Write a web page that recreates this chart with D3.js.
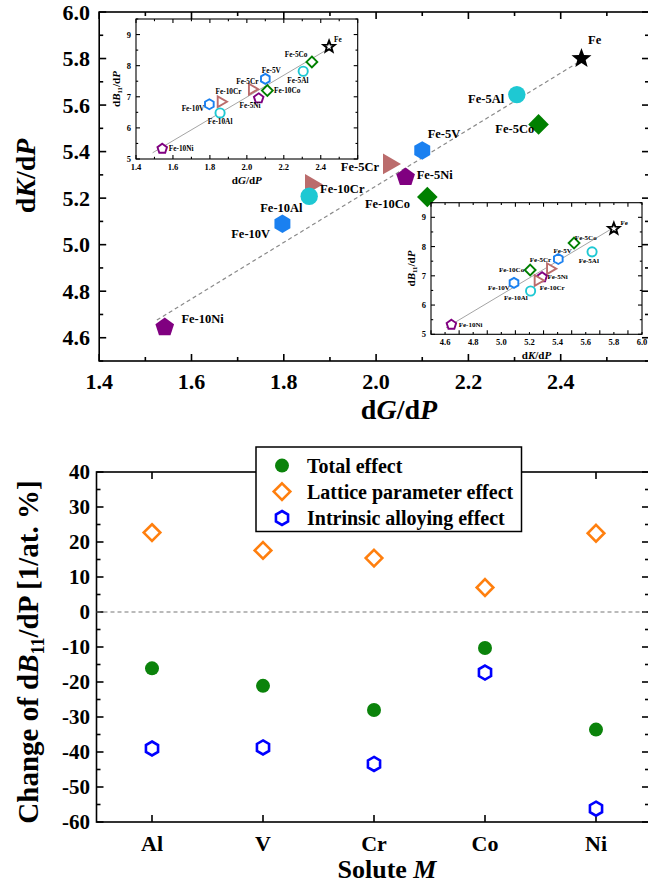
<!DOCTYPE html>
<html><head><meta charset="utf-8">
<script src="https://cdn.jsdelivr.net/npm/d3@7"></script>
<style>
body{margin:0;background:#fff;}
svg{display:block;font-family:"Liberation Serif","Times New Roman",serif;font-weight:bold;}
</style></head><body>
<svg id="c" width="648" height="886"></svg>
<script>
// ---------------- DATA ----------------
const alloys  = ["Fe","Fe-5Al","Fe-5Co","Fe-5V","Fe-5Cr","Fe-5Ni","Fe-10Co","Fe-10Cr","Fe-10Al","Fe-10V","Fe-10Ni"];
const solute  = ["Fe","Al","Co","V","Cr","Ni","Co","Cr","Al","V","Ni"];
const dGdP    = [2.445, 2.305, 2.352, 2.100, 2.028, 2.064, 2.111, 1.859, 1.855, 1.797, 1.542];
const dKdP    = [5.800, 5.645, 5.517, 5.405, 5.347, 5.290, 5.205, 5.259, 5.208, 5.090, 4.645];
const dB11dP  = [8.61, 7.82, 8.12, 7.575, 7.245, 6.95, 7.20, 6.84, 6.48, 6.76, 5.33];
const fitGK_x = [1.525, 2.435], fitGK_y = [4.676, 5.780];
const fitGB_x = [1.490, 2.447], fitGB_y = [5.20, 8.56];
const fitKB_x = [4.607, 5.778], fitKB_y = [5.226, 8.59];
const mainXTicks = [1.4,1.6,1.8,2.0,2.2,2.4];
const mainYTicks = [4.6,4.8,5.0,5.2,5.4,5.6,5.8,6.0];
const in1XTicks = [1.4,1.6,1.8,2.0,2.2,2.4];
const in2XTicks = [4.6,4.8,5.0,5.2,5.4,5.6,5.8,6.0];
const inYTicks  = [5,6,7,8,9];

const soluteCats      = ["Al","V","Cr","Co","Ni"];
const totalEffect     = [-16.1,-21.1,-28.0,-10.3,-33.6];
const latticeEffect   = [22.7,17.6,15.4,7.0,22.5];
const intrinsicEffect = [-39.0,-38.7,-43.4,-17.3,-56.2];
const effYTicks = [-60,-50,-40,-30,-20,-10,0,10,20,30,40];
const legendLabels = ["Total effect","Lattice parameter effect","Intrinsic alloying effect"];

// ---------------- STYLE / LAYOUT ----------------
const soluteStyle = {
  Fe:{shape:"star",color:"#000000"},
  Al:{shape:"circle",color:"#1ec8d3"},
  Co:{shape:"diamond",color:"#008000"},
  V:{shape:"hexagon",color:"#1a80f0"},
  Cr:{shape:"triangle",color:"#bb6c6c"},
  Ni:{shape:"pentagon",color:"#800080"}
};
const mainSize = {star:10.5,circle:8.7,diamond:10.3,hexagon:9.2,triangle:12,pentagon:9.8};
const inSize   = {star:6,circle:4.6,diamond:5.4,hexagon:5,triangle:6.2,pentagon:5};
// label placement: [anchor, dx, dy], in alloy order
const mainLab = [["start",6.6,-19],["end",-12.7,4.3],["end",-4.3,5],["start",5.4,-16.7],["end",-10,3.4],
  ["start",11,-1.7],["end",-17.3,7],["start",9,4.7],["end",-6.6,11.6],["end",-12.3,10.7],["start",16.7,-8.3]];
const in1Lab = [["start",5,-7.3],["middle",-5.3,9.3],["middle",-15.7,-7],["middle",6,-8.6],["middle",-4.7,-8],
  ["middle",-8.6,7.3],["start",6.7,0],["middle",7.7,-10.3],["middle",0,8.7],["end",-5,4.3],["start",6.6,0]];
const in2Lab = [["start",6.6,-5.6],["middle",-3.3,9.3],["middle",11.7,-5.4],["middle",4.3,-8.3],["middle",-9.6,-8.3],
  ["start",5.3,0],["end",-6,0],["start",2,8],["middle",-14.7,7],["middle",-15,5.6],["start",7.3,0]];

function shapePath(type, r){
  const pts=[];
  if(type==="circle"){ const p=d3.path(); p.arc(0,0,r,0,2*Math.PI); p.closePath(); return p.toString(); }
  if(type==="diamond"){ return `M0,${-r}L${r},0L0,${r}L${-r},0Z`; }
  let n, a0, star=false;
  if(type==="hexagon"){n=6;a0=-Math.PI/2;}
  if(type==="triangle"){n=3;a0=0;}
  if(type==="pentagon"){n=5;a0=-Math.PI/2;}
  if(type==="star"){n=10;a0=-Math.PI/2;star=true;}
  for(let k=0;k<n;k++){
    const a=a0+k*2*Math.PI/n; const rr = star && k%2 ? r*0.42 : r;
    pts.push([rr*Math.cos(a), rr*Math.sin(a)]);
  }
  return "M"+pts.map(p=>p[0].toFixed(2)+","+p[1].toFixed(2)).join("L")+"Z";
}

const svg = d3.select("#c");

function frameTicks(g, x, y, box, xMaj, xMin, yMaj, yMin, lMaj, lMin, sw){
  g.append("rect").attr("x",box.l).attr("y",box.t).attr("width",box.r-box.l).attr("height",box.b-box.t)
    .attr("fill","none").attr("stroke","#000").attr("stroke-width",sw);
  const tk = g.append("g").attr("stroke","#000").attr("stroke-width",sw);
  const addX=(vals,len)=>vals.forEach(v=>{const px=x(v); if(px<box.l-0.5||px>box.r+0.5) return;
    tk.append("line").attr("x1",px).attr("x2",px).attr("y1",box.b).attr("y2",box.b-len);
    tk.append("line").attr("x1",px).attr("x2",px).attr("y1",box.t).attr("y2",box.t+len);});
  const addY=(vals,len)=>vals.forEach(v=>{const py=y(v); if(py<box.t-0.5||py>box.b+0.5) return;
    tk.append("line").attr("y1",py).attr("y2",py).attr("x1",box.l).attr("x2",box.l+len);
    tk.append("line").attr("y1",py).attr("y2",py).attr("x1",box.r).attr("x2",box.r-len);});
  addX(xMaj,lMaj); addX(xMin,lMin); addY(yMaj,lMaj); addY(yMin,lMin);
}
function richText(g, x, y, parts, size, anchor, rotate){
  const t = g.append("text").attr("font-size",size).attr("text-anchor",anchor||"middle")
    .attr("dominant-baseline","central");
  if(rotate){ t.attr("transform",`translate(${x},${y}) rotate(-90)`); } else { t.attr("x",x).attr("y",y); }
  parts.forEach(p=>{
    const s=t.append("tspan").text(p.t);
    if(p.i) s.attr("font-style","italic");
    if(p.sub) s.attr("font-size",size*0.62).attr("baseline-shift","sub");
  });
  return t;
}
function drawPoints(g, xs, ys, x, y, sizes, sw, filled){
  alloys.forEach((a,i)=>{
    const st = soluteStyle[solute[i]];
    g.append("path").attr("d",shapePath(st.shape,sizes[st.shape]))
      .attr("transform",`translate(${x(xs[i])},${y(ys[i])})`)
      .attr("fill", filled ? st.color : "#fff")
      .attr("stroke", filled ? "none" : st.color).attr("stroke-width", sw);
  });
}
function drawLabels(g, xs, ys, x, y, lab, size){
  alloys.forEach((a,i)=>{
    const L=lab[i];
    g.append("text").attr("x",x(xs[i])+L[1]).attr("y",y(ys[i])+L[2]).attr("text-anchor",L[0])
      .attr("dominant-baseline","central").attr("font-size",size).text(a);
  });
}
const range=(a,b,s)=>d3.range(a,b+s/2,s).map(v=>+v.toFixed(4));

// ---------------- TOP PANEL ----------------
const topBox = {l:99.2, r:649, t:12, b:361};
const xM = d3.scaleLinear().domain([1.4,2.6]).range([99.2,653]);
const yM = d3.scaleLinear().domain([4.5,6.0]).range([361,12]);
const gT = svg.append("g");
frameTicks(gT, xM, yM, topBox, range(1.4,2.6,0.2), range(1.5,2.5,0.2), range(4.6,6.0,0.2), range(4.5,5.9,0.2), 7, 4, 1.6);
mainXTicks.forEach(v=>gT.append("text").attr("x",xM(v)).attr("y",381).attr("text-anchor","middle")
  .attr("dominant-baseline","central").attr("font-size",22).text(v.toFixed(1)));
mainYTicks.forEach(v=>gT.append("text").attr("x",90).attr("y",yM(v)).attr("text-anchor","end")
  .attr("dominant-baseline","central").attr("font-size",22).text(v.toFixed(1)));
richText(gT, 399, 409, [{t:"d"},{t:"G",i:1},{t:"/d"},{t:"P",i:1}], 28);
richText(gT, 25, 176, [{t:"d"},{t:"K",i:1},{t:"/d"},{t:"P",i:1}], 28, "middle", true);
// fitted dashed line
gT.append("path").attr("d", d3.line()(fitGK_x.map((v,i)=>[xM(v), yM(fitGK_y[i])])))
  .attr("stroke","#8a8a8a").attr("stroke-width",1.2).attr("stroke-dasharray","4,3").attr("fill","none");
drawPoints(gT, dGdP, dKdP, xM, yM, mainSize, 0, true);
drawLabels(gT, dGdP, dKdP, xM, yM, mainLab, 12.5);

// insets: dB11/dP vs dG/dP and vs dK/dP
function inset(box, xDom, xt, xs, fitx, fity, lab, labSize, xTitle){
  const g = svg.append("g");
  const x = d3.scaleLinear().domain(xDom).range([box.l,box.r]);
  const y = d3.scaleLinear().domain([5,9.5]).range([box.b,box.t]);
  g.append("rect").attr("x",box.l).attr("y",box.t).attr("width",box.r-box.l).attr("height",box.b-box.t).attr("fill","#fff");
  frameTicks(g, x, y, box, range(xDom[0],xDom[1],0.2), range(xDom[0]+0.1,xDom[1]-0.1,0.2), range(5,9,1), range(5.5,9.5,1), 4, 2.2, 1.1);
  xt.forEach(v=>g.append("text").attr("x",x(v)).attr("y",box.b+8).attr("text-anchor","middle")
    .attr("dominant-baseline","central").attr("font-size",8.5).text(v.toFixed(1)));
  inYTicks.forEach(v=>g.append("text").attr("x",box.l-5).attr("y",y(v)).attr("text-anchor","end")
    .attr("dominant-baseline","central").attr("font-size",8.5).text(v));
  richText(g, (box.l+box.r)/2, box.b+21, xTitle, 11);
  richText(g, box.l-20, (box.t+box.b)/2, [{t:"d"},{t:"B",i:1},{t:"11",sub:1},{t:"/d"},{t:"P",i:1}], 11, "middle", true);
  g.append("path").attr("d", d3.line()(fitx.map((v,i)=>[x(v), y(fity[i])])))
    .attr("stroke","#9a9a9a").attr("stroke-width",0.9).attr("fill","none");
  drawPoints(g, xs, dB11dP, x, y, inSize, 1.9, false);
  drawLabels(g, xs, dB11dP, x, y, lab, labSize);
}
inset({l:136,r:357.7,t:19,b:159},[1.4,2.6],in1XTicks,dGdP,fitGB_x,fitGB_y,in1Lab,7.3,[{t:"d"},{t:"G",i:1},{t:"/d"},{t:"P",i:1}]);
inset({l:431,r:642,t:202.7,b:334.3},[4.5,6.0],in2XTicks,dKdP,fitKB_x,fitKB_y,in2Lab,7,[{t:"d"},{t:"K",i:1},{t:"/d"},{t:"P",i:1}]);

// ---------------- BOTTOM PANEL ----------------
const botBox = {l:96.5, r:649, t:472, b:822};
const xB = d3.scaleLinear().domain([0.5,5.5]).range([96.5,651.5]);
const yB = d3.scaleLinear().domain([-60,40]).range([822,472]);
const gB = svg.append("g");
frameTicks(gB, xB, yB, botBox, [1,2,3,4,5], [], effYTicks, range(-55,35,10), 7, 4, 1.6);
gB.append("line").attr("x1",botBox.l).attr("x2",botBox.r).attr("y1",yB(0)).attr("y2",yB(0))
  .attr("stroke","#777").attr("stroke-width",1.1).attr("stroke-dasharray","4,3");
soluteCats.forEach((c,i)=>gB.append("text").attr("x",xB(i+1)).attr("y",843).attr("text-anchor","middle")
  .attr("dominant-baseline","central").attr("font-size",22).text(c));
effYTicks.forEach(v=>gB.append("text").attr("x",90).attr("y",yB(v)).attr("text-anchor","end")
  .attr("dominant-baseline","central").attr("font-size",21).text(v));
richText(gB, 387, 869, [{t:"Solute "},{t:"M",i:1}], 26);
richText(gB, 28, 652, [{t:"Change of d"},{t:"B",i:1},{t:"11",sub:1},{t:"/dP [1/at. %]"}], 29, "middle", true);

const effStyles = [
  {shape:"circle", r:7, fill:"#0b830b", stroke:"none", sw:0},
  {shape:"diamond", r:8.3, fill:"#fff", stroke:"#ff7f0e", sw:2.6},
  {shape:"hexagon", r:7, fill:"#fff", stroke:"#0000ff", sw:2.6}
];
[totalEffect, latticeEffect, intrinsicEffect].forEach((arr,k)=>{
  const s=effStyles[k];
  arr.forEach((v,i)=>gB.append("path").attr("d",shapePath(s.shape,s.r))
    .attr("transform",`translate(${xB(i+1)},${yB(v)})`)
    .attr("fill",s.fill).attr("stroke",s.stroke).attr("stroke-width",s.sw));
});
// legend
const lg = gB.append("g");
lg.append("rect").attr("x",256).attr("y",447).attr("width",265.5).attr("height",84.5)
  .attr("fill","#fff").attr("stroke","#000").attr("stroke-width",1.5);
const legY = [465.6, 491.6, 518];
legendLabels.forEach((t,k)=>{
  const s=effStyles[k];
  lg.append("path").attr("d",shapePath(s.shape,s.r)).attr("transform",`translate(282,${legY[k]})`)
    .attr("fill",s.fill).attr("stroke",s.stroke).attr("stroke-width",s.sw);
  lg.append("text").attr("x",307).attr("y",legY[k]).attr("dominant-baseline","central")
    .attr("font-size",20).text(t);
});
</script>
</body></html>
